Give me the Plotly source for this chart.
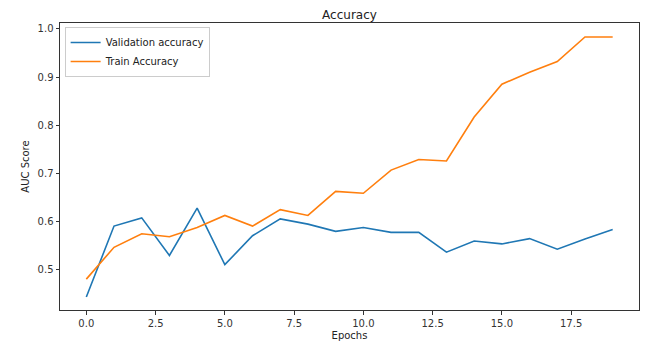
import plotly.graph_objects as go

epochs = list(range(20))
val_acc = [0.444, 0.591, 0.608, 0.530, 0.628, 0.511, 0.571, 0.606, 0.595, 0.580,
           0.588, 0.578, 0.578, 0.537, 0.560, 0.554, 0.565, 0.543, 0.564, 0.584]
train_acc = [0.481, 0.547, 0.575, 0.569, 0.588, 0.613, 0.591, 0.625, 0.613, 0.663,
             0.659, 0.707, 0.729, 0.726, 0.817, 0.885, 0.910, 0.932, 0.983, 0.983]
x_ticks = [0.0, 2.5, 5.0, 7.5, 10.0, 12.5, 15.0, 17.5]
y_ticks = [0.5, 0.6, 0.7, 0.8, 0.9, 1.0]

font = "DejaVu Sans"
# The page body has an 8px default margin, so the figure is sized to fit the window.
W, H = 647, 337
fig = go.Figure()
fig.add_trace(go.Scatter(x=epochs, y=val_acc, mode="lines", name="Validation accuracy",
                         line=dict(color="#1f77b4", width=1.6)))
fig.add_trace(go.Scatter(x=epochs, y=train_acc, mode="lines", name="Train Accuracy",
                         line=dict(color="#ff7f0e", width=1.6)))

axis_common = dict(showgrid=False, zeroline=False, showline=True, linecolor="#333333",
                   linewidth=1, mirror=True, ticks="outside", ticklen=3.5, tickwidth=1,
                   tickcolor="#333333", automargin=False,
                   tickfont=dict(family=font, size=10, color="#333333"))

fig.update_layout(
    width=W, height=H,
    margin=dict(l=52, r=16, t=15, b=35),
    paper_bgcolor="white", plot_bgcolor="white",
    title=dict(text="Accuracy", x=(52 + 631) / 2 / W, xanchor="center", y=1 - 7 / H,
               yanchor="middle", font=dict(family=font, size=12, color="#222222"),
               automargin=False),
    xaxis=dict(range=[-0.95, 19.95], tickvals=x_ticks, ticktext=[f"{v:.1f}" for v in x_ticks],
               title=dict(text="Epochs", font=dict(family=font, size=10, color="#222222"), standoff=4),
               **axis_common),
    yaxis=dict(range=[0.417, 1.012], tickvals=y_ticks, ticktext=[f"{v:.1f}" for v in y_ticks],
               title=dict(text="AUC Score", font=dict(family=font, size=10, color="#222222"), standoff=6),
               **axis_common),
    legend=dict(x=0.008, y=0.986, xanchor="left", yanchor="top", bgcolor="rgba(255,255,255,0.8)",
                bordercolor="#cccccc", borderwidth=1, font=dict(family=font, size=10, color="#222222"),
                tracegroupgap=0, itemwidth=30),
    showlegend=True,
)

fig.write_html("out.html")
